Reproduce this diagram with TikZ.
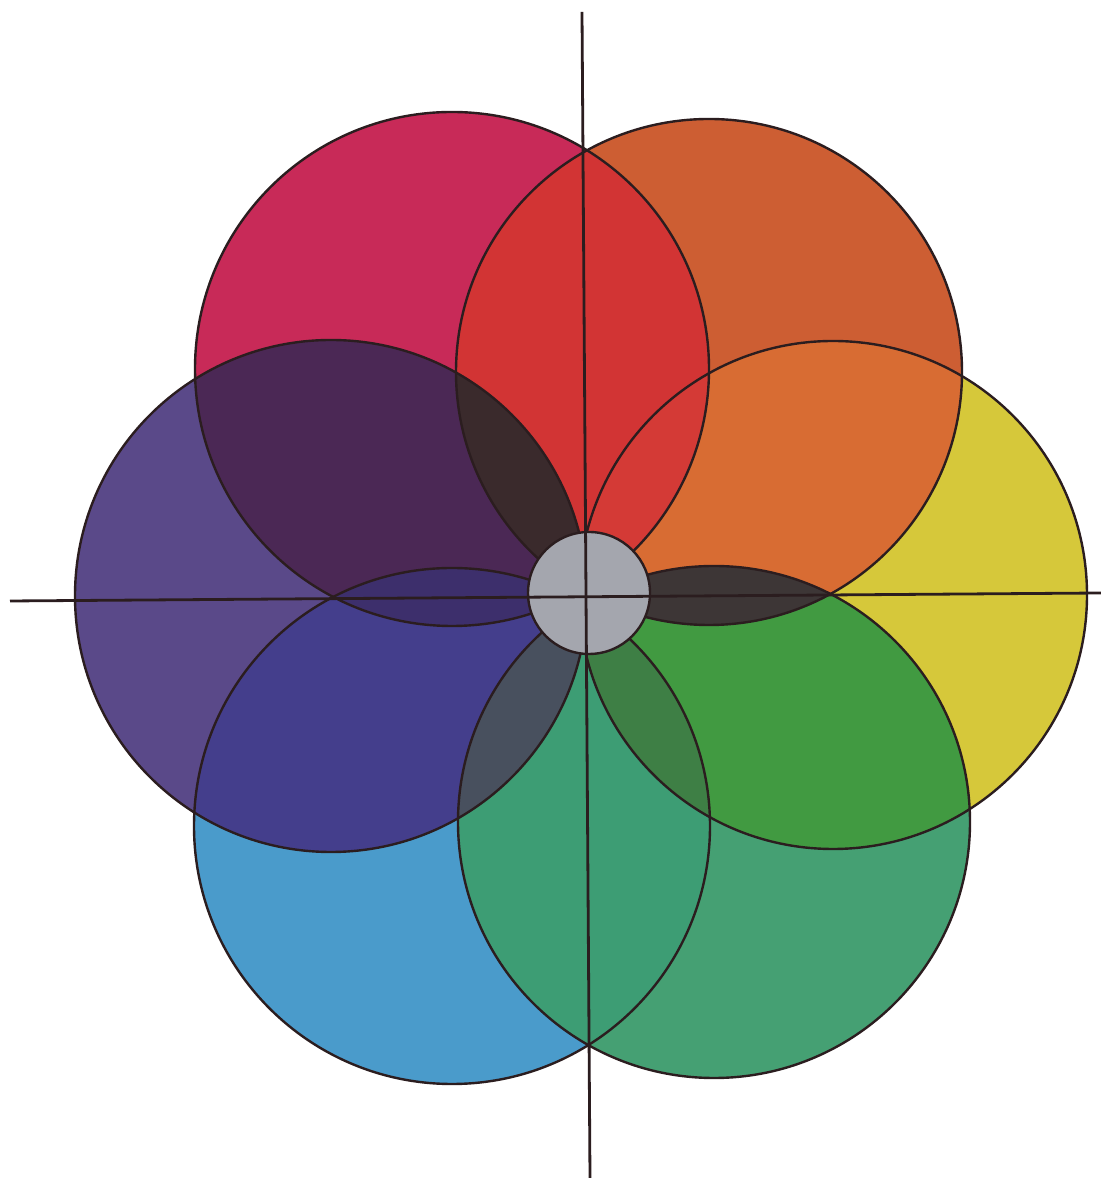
\documentclass[tikz,border=0pt]{standalone}
\definecolor{cYel}{HTML}{D6C83A}
\definecolor{cOra}{HTML}{CD5E33}
\definecolor{cMag}{HTML}{C82A58}
\definecolor{cVio}{HTML}{5A4989}
\definecolor{cBlu}{HTML}{4A9BCB}
\definecolor{cGrn}{HTML}{45A073}
\definecolor{pYO}{HTML}{D86C33}
\definecolor{pOM}{HTML}{D23434}
\definecolor{pMV}{HTML}{4B2855}
\definecolor{pVB}{HTML}{443E8C}
\definecolor{pBG}{HTML}{3D9D74}
\definecolor{pGY}{HTML}{419A41}
\definecolor{tGYO}{HTML}{3D3636}
\definecolor{tYOM}{HTML}{D43A36}
\definecolor{tOMV}{HTML}{3A2A2C}
\definecolor{tMVB}{HTML}{3D2F6C}
\definecolor{tVBG}{HTML}{48505E}
\definecolor{tBGY}{HTML}{3E7F45}
\definecolor{cGrey}{HTML}{A4A6AE}
\definecolor{outl}{HTML}{2B1D1F}
\def\radY{127pt}
\def\radO{126.5pt}
\def\radM{128.5pt}
\def\radV{128pt}
\def\radB{129pt}
\def\radG{128pt}
\begin{document}
\begin{tikzpicture}[x=0.5pt,y=0.5pt,
  rim/.style={draw=outl,line width=1.2pt},
  axis/.style={draw=outl,line width=1.4pt}]
\useasboundingbox (0,0) rectangle (1101,1178);
\fill[white] (0,0) rectangle (1101,1178);
\coordinate (Y) at (833,583);
\coordinate (O) at (709,806);
\coordinate (M) at (452,809);
\coordinate (V) at (331,582);
\coordinate (B) at (452,352);
\coordinate (G) at (714,356);
\coordinate (ctr) at (589,585);
\coordinate (vtop) at (582,1166);
\coordinate (vbot) at (590,0);
\coordinate (hl) at (10,577);
\coordinate (hr) at (1101,585);
% single circles
\fill[cYel] (Y) circle[radius=\radY];
\fill[cOra] (O) circle[radius=\radO];
\fill[cMag] (M) circle[radius=\radM];
\fill[cVio] (V) circle[radius=\radV];
\fill[cBlu] (B) circle[radius=\radB];
\fill[cGrn] (G) circle[radius=\radG];
% pairs
\begin{scope}\clip (Y) circle[radius=\radY]; \fill[pYO] (O) circle[radius=\radO];\end{scope}
\begin{scope}\clip (O) circle[radius=\radO]; \fill[pOM] (M) circle[radius=\radM];\end{scope}
\begin{scope}\clip (M) circle[radius=\radM]; \fill[pMV] (V) circle[radius=\radV];\end{scope}
\begin{scope}\clip (V) circle[radius=\radV]; \fill[pVB] (B) circle[radius=\radB];\end{scope}
\begin{scope}\clip (B) circle[radius=\radB]; \fill[pBG] (G) circle[radius=\radG];\end{scope}
\begin{scope}\clip (G) circle[radius=\radG]; \fill[pGY] (Y) circle[radius=\radY];\end{scope}
% triples
\begin{scope}\clip (G) circle[radius=\radG]; \clip (O) circle[radius=\radO]; \fill[tGYO] (Y) circle[radius=\radY];\end{scope}
\begin{scope}\clip (Y) circle[radius=\radY]; \clip (M) circle[radius=\radM]; \fill[tYOM] (O) circle[radius=\radO];\end{scope}
\begin{scope}\clip (O) circle[radius=\radO]; \clip (V) circle[radius=\radV]; \fill[tOMV] (M) circle[radius=\radM];\end{scope}
\begin{scope}\clip (M) circle[radius=\radM]; \clip (B) circle[radius=\radB]; \fill[tMVB] (V) circle[radius=\radV];\end{scope}
\begin{scope}\clip (V) circle[radius=\radV]; \clip (G) circle[radius=\radG]; \fill[tVBG] (B) circle[radius=\radB];\end{scope}
\begin{scope}\clip (B) circle[radius=\radB]; \clip (Y) circle[radius=\radY]; \fill[tBGY] (G) circle[radius=\radG];\end{scope}
% outlines
\draw[rim] (Y) circle[radius=\radY];
\draw[rim] (O) circle[radius=\radO];
\draw[rim] (M) circle[radius=\radM];
\draw[rim] (V) circle[radius=\radV];
\draw[rim] (B) circle[radius=\radB];
\draw[rim] (G) circle[radius=\radG];
% centre disc
\fill[cGrey] (ctr) circle[radius=30.5pt];
\draw[rim] (ctr) circle[radius=30.5pt];
% axes
\draw[axis] (vtop) -- (vbot);
\draw[axis] (hl) -- (hr);
\end{tikzpicture}
\end{document}
